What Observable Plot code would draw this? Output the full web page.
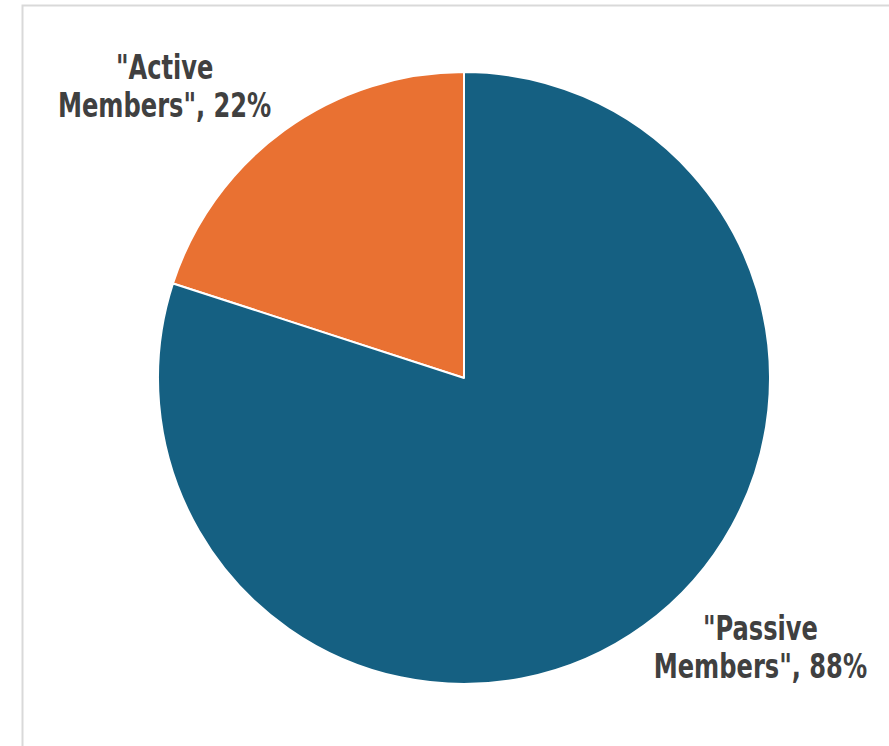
<!DOCTYPE html>
<html>
<head>
<meta charset="utf-8">
<script src="https://cdn.jsdelivr.net/npm/d3@7"></script>
<script src="https://cdn.jsdelivr.net/npm/@observablehq/plot@0.6"></script>
<style>
  html, body { margin: 0; padding: 0; background: #fff; }
  #chart svg { display: block; }
</style>
</head>
<body>
<div id="chart"></div>
<script>
// ---- data ----
const categories = ["\"Active Members\"", "\"Passive Members\""];
const values = [22, 88];
const labels = ["\"Active\nMembers\", 22%", "\"Passive\nMembers\", 88%"];
const colors = ["#E97132", "#156082"];

// ---- layout (unit-circle coordinates for label anchors) ----
const labelAt = [[-0.98, -0.955], [0.967, 0.878]];
const narrow = 0.813; // horizontal squeeze to mimic a narrow bold face

const rows = categories.map((c, i) => ({category: c, value: values[i], label: labels[i], lx: labelAt[i][0], ly: labelAt[i][1]}));
const total = d3.sum(values);
const arcs = d3.pie()
  .sort(null)
  .value(d => d.value)
  .startAngle(-2 * Math.PI * values[0] / total)
  .endAngle(2 * Math.PI - 2 * Math.PI * values[0] / total)(rows);

const color = Plot.scale({color: {type: "ordinal", domain: categories, range: colors}});

function pieSlices(index, scales) {
  const cx = scales.x(0), cy = scales.y(0);
  const r = scales.x(1) - scales.x(0);
  const g = d3.create("svg:g").attr("transform", `translate(${cx},${cy})`);
  g.selectAll("path").data(arcs).join("path")
    .attr("d", d3.arc().innerRadius(0).outerRadius(r))
    .attr("fill", d => color.apply(d.data.category))
    .attr("stroke", "#ffffff")
    .attr("stroke-width", 2)
    .attr("stroke-linejoin", "round");
  return g.node();
}

const chart = Plot.plot({
  width: 889,
  height: 746,
  margin: 0,
  style: {background: "#ffffff", overflow: "visible"},
  x: {type: "linear", domain: [-1, 1], range: [158, 770], axis: null},
  y: {type: "linear", domain: [-1, 1], range: [72, 684], axis: null},
  marks: [
    Plot.frame({stroke: "#d9d9d9", strokeWidth: 2, insetLeft: 22, insetTop: 5, insetRight: -20, insetBottom: -20}),
    pieSlices,
    Plot.text(rows, {
      x: "lx", y: "ly", text: "label",
      fill: "#404040",
      fontSize: 33,
      fontWeight: "bold",
      fontFamily: "'DejaVu Sans Condensed', 'DejaVu Sans', sans-serif",
      lineHeight: 1.15,
      textAnchor: "middle"
    })
  ]
});

// squeeze label glyphs horizontally around their anchor
d3.select(chart).selectAll('g[aria-label="text"] text').each(function() {
  const t = this.getAttribute("transform");
  if (t) {
    this.setAttribute("transform", `${t} scale(${narrow},1)`);
  } else {
    const x = +this.getAttribute("x") || 0, y = +this.getAttribute("y") || 0;
    this.removeAttribute("x"); this.removeAttribute("y");
    this.setAttribute("transform", `translate(${x},${y}) scale(${narrow},1)`);
  }
});

document.getElementById("chart").append(chart);
</script>
</body>
</html>
